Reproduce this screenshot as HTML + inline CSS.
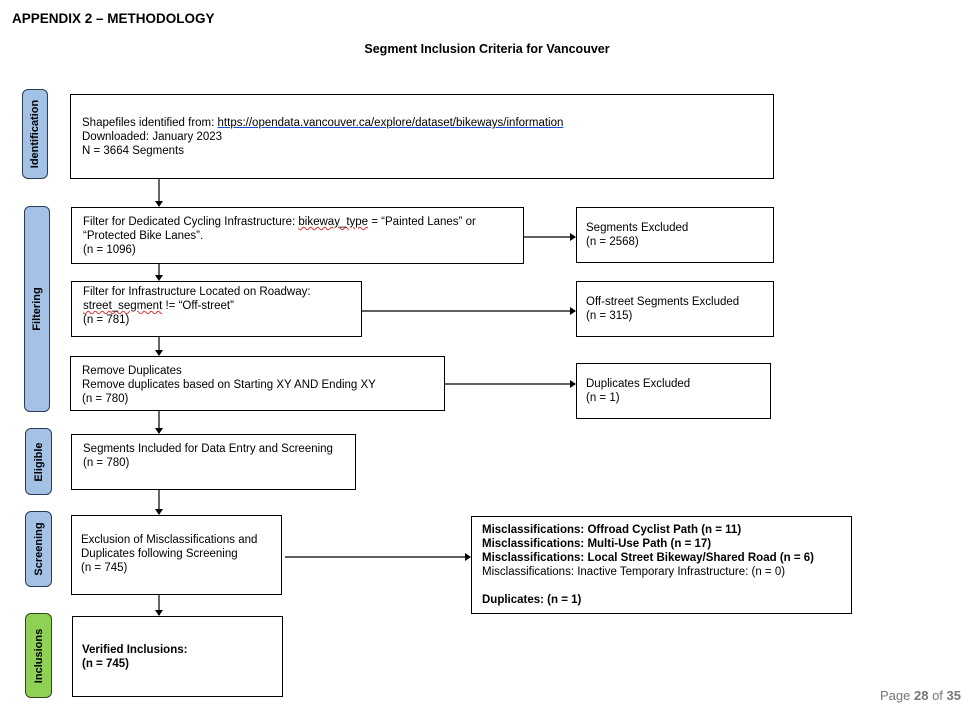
<!DOCTYPE html>
<html><head><meta charset="utf-8"><style>
body{margin:0;width:971px;height:715px;background:#fff;position:relative;overflow:hidden;font-family:"Liberation Sans",Arial,sans-serif;color:#000}
.b{position:absolute;border:1.3px solid #000;box-sizing:border-box;font-size:11.5px;line-height:14px;padding-left:11px}
.s{position:absolute;background:#a4c2e6;border:1.5px solid #2a3b55;border-radius:6px;box-sizing:border-box}
.s span{position:absolute;left:50%;top:50%;transform:translate(-50%,-50%) rotate(-90deg);font-weight:bold;font-size:11px;white-space:nowrap}
.sq{text-decoration:underline wavy #d33;text-decoration-thickness:1px}
</style></head><body>
<div style="position:absolute;left:12px;top:11px;font-weight:bold;font-size:13.5px">APPENDIX 2 – METHODOLOGY</div>
<div style="position:absolute;left:0;width:974px;text-align:center;top:42px;font-weight:bold;font-size:12.5px">Segment Inclusion Criteria for Vancouver</div>

<div class="s" style="left:22px;top:89px;width:26px;height:90px"><span>Identification</span></div>
<div class="s" style="left:24px;top:206px;width:26px;height:206px"><span>Filtering</span></div>
<div class="s" style="left:25px;top:428px;width:27px;height:67px"><span>Eligible</span></div>
<div class="s" style="left:25px;top:511px;width:27px;height:76px"><span>Screening</span></div>
<div class="s" style="left:25px;top:613px;width:27px;height:85px;background:#8fd155;border-color:#2f4a1c"><span>Inclusions</span></div>

<div class="b" style="left:70px;top:94px;width:704px;height:85px;padding-top:21px">Shapefiles identified from: <span style="text-decoration:underline;color:#000;text-decoration-color:#1a4fd0">https://opendata.vancouver.ca/explore/dataset/bikeways/information</span><br>Downloaded: January 2023<br>N = 3664 Segments</div>
<div class="b" style="left:71px;top:207px;width:453px;height:57px;padding-top:7px">Filter for Dedicated Cycling Infrastructure: <span class="sq">bikeway_type</span> = “Painted Lanes” or<br>“Protected Bike Lanes”.<br>(n = 1096)</div>
<div class="b" style="left:71px;top:281px;width:291px;height:56px;padding-top:3px">Filter for Infrastructure Located on Roadway:<br><span class="sq">street_segment</span> != “Off-street”<br>(n = 781)</div>
<div class="b" style="left:70px;top:356px;width:375px;height:55px;padding-top:7px">Remove Duplicates<br>Remove duplicates based on Starting XY AND Ending XY<br>(n = 780)</div>
<div class="b" style="left:71px;top:434px;width:285px;height:56px;padding-top:7px">Segments Included for Data Entry and Screening<br>(n = 780)</div>
<div class="b" style="left:71px;top:515px;width:211px;height:80px;padding-left:9px;padding-top:17px">Exclusion of Misclassifications and<br>Duplicates following Screening<br>(n = 745)</div>
<div class="b" style="left:72px;top:616px;width:211px;height:81px;padding-left:9px;padding-top:26px;font-weight:bold">Verified Inclusions:<br>(n = 745)</div>

<div class="b" style="left:576px;top:207px;width:198px;height:56px;padding-left:9px;padding-top:13px">Segments Excluded<br>(n = 2568)</div>
<div class="b" style="left:576px;top:281px;width:198px;height:56px;padding-left:9px;padding-top:13px">Off-street Segments Excluded<br>(n = 315)</div>
<div class="b" style="left:576px;top:363px;width:195px;height:56px;padding-left:9px;padding-top:13px">Duplicates Excluded<br>(n = 1)</div>
<div class="b" style="left:471px;top:516px;width:381px;height:98px;padding-left:10px;padding-top:6px"><b>Misclassifications: Offroad Cyclist Path (n = 11)<br>Misclassifications: Multi-Use Path (n = 17)<br>Misclassifications: Local Street Bikeway/Shared Road (n = 6)</b><br>Misclassifications: Inactive Temporary Infrastructure: (n = 0)<br><br><b>Duplicates: (n = 1)</b></div>

<svg width="971" height="715" style="position:absolute;left:0;top:0" fill="#000" stroke="#000">
<g stroke-width="1.2">
<line x1="159" y1="179" x2="159" y2="202"/><line x1="159" y1="264" x2="159" y2="276"/>
<line x1="159" y1="337" x2="159" y2="351"/><line x1="159" y1="411" x2="159" y2="429"/>
<line x1="159" y1="490" x2="159" y2="510"/><line x1="159" y1="595" x2="159" y2="611"/>
<line x1="524" y1="237" x2="572" y2="237"/><line x1="362" y1="311" x2="572" y2="311"/>
<line x1="445" y1="384" x2="572" y2="384"/><line x1="285" y1="557" x2="467" y2="557"/>
</g>
<g stroke="none">
<path d="M155,201 L163,201 L159,207Z"/><path d="M155,275 L163,275 L159,281Z"/>
<path d="M155,350 L163,350 L159,356Z"/><path d="M155,428 L163,428 L159,434Z"/>
<path d="M155,509 L163,509 L159,515Z"/><path d="M155,610 L163,610 L159,616Z"/>
<path d="M570,233 L570,241 L576,237Z"/><path d="M570,307 L570,315 L576,311Z"/>
<path d="M570,380 L570,388 L576,384Z"/><path d="M465,553 L465,561 L471,557Z"/>
</g></svg>
<div style="position:absolute;right:10px;top:688px;font-size:13px;color:#777">Page <b>28</b> of <b>35</b></div>
</body></html>
